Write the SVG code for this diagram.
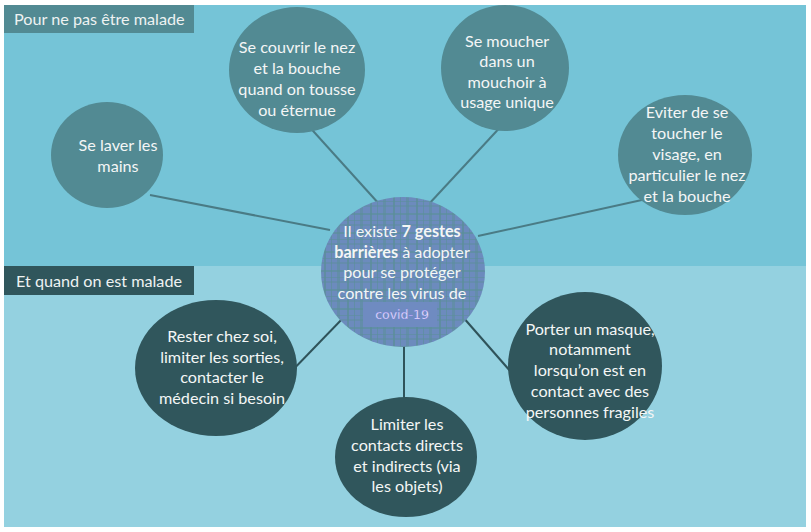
<svg xmlns="http://www.w3.org/2000/svg" width="811" height="532" viewBox="0 0 811 532">
<defs>
<style>
.t{font-family:Lato,"Open Sans","DejaVu Sans",sans-serif;font-size:16.2px;fill:#f4f6f6;text-anchor:middle}
.lbl{font-family:Lato,"Open Sans","DejaVu Sans",sans-serif;font-size:16.2px;fill:#eef2f2}
.top{fill:#528a93}
.bot{fill:#30565c}
.ct{stroke:#4a7b85;stroke-width:2;fill:none}
.cb{stroke:#2f535a;stroke-width:2;fill:none}
</style>
<pattern id="plaid" width="23" height="19" patternUnits="userSpaceOnUse">
<rect width="23" height="19" fill="#6c8bbd"/>
<rect x="2" width="2" height="19" fill="#5a8f98" opacity="0.7"/>
<rect x="9" width="1" height="19" fill="#5a8f98" opacity="0.6"/>
<rect x="15" width="3" height="19" fill="#5a8f98" opacity="0.5"/>
<rect y="4" width="23" height="2" fill="#5a8f98" opacity="0.6"/>
<rect y="11" width="23" height="1" fill="#5a8f98" opacity="0.5"/>
<rect y="15" width="23" height="2" fill="#5a8f98" opacity="0.4"/>
</pattern>
</defs>
<rect width="811" height="532" fill="#ffffff"/>
<rect x="4" y="5" width="802" height="261" fill="#75c4d7"/>
<rect x="4" y="266" width="802" height="261" fill="#94d1e0"/>
<g id="label-top">
<rect x="4" y="5" width="190" height="28" fill="#528a93"/>
<text class="lbl" x="14" y="25">Pour ne pas être malade</text>
</g>
<g id="label-bottom">
<rect x="4" y="266" width="190" height="29" fill="#30565c"/>
<text class="lbl" x="16" y="287">Et quand on est malade</text>
</g>
<g id="connectors">
<line class="ct" x1="150" y1="195" x2="330" y2="230"/>
<line class="ct" x1="305" y1="122" x2="380" y2="205"/>
<line class="ct" x1="505" y1="122" x2="428" y2="205"/>
<line class="ct" x1="478" y1="236" x2="660" y2="196"/>
<line class="cb" x1="285" y1="378" x2="345" y2="316"/>
<line class="cb" x1="404" y1="340" x2="404" y2="405"/>
<line class="cb" x1="462" y1="316" x2="518" y2="380"/>
</g>
<g id="node-laver">
<ellipse class="top" cx="107" cy="155" rx="56" ry="53"/>
<text class="t"><tspan x="118" y="151">Se laver les</tspan><tspan x="118" y="172">mains</tspan></text>
</g>
<g id="node-couvrir">
<ellipse class="top" cx="297" cy="70" rx="68" ry="63"/>
<text class="t"><tspan x="297" y="53">Se couvrir le nez</tspan><tspan x="297" y="74">et la bouche</tspan><tspan x="297" y="95">quand on tousse</tspan><tspan x="297" y="116">ou éternue</tspan></text>
</g>
<g id="node-moucher">
<ellipse class="top" cx="505" cy="68" rx="64" ry="63"/>
<text class="t"><tspan x="507" y="47">Se moucher</tspan><tspan x="507" y="67">dans un</tspan><tspan x="507" y="88">mouchoir à</tspan><tspan x="507" y="108">usage unique</tspan></text>
</g>
<g id="node-eviter">
<ellipse class="top" cx="685" cy="155" rx="67" ry="60"/>
<text class="t"><tspan x="687" y="118">Eviter de se</tspan><tspan x="687" y="139">toucher le</tspan><tspan x="687" y="160">visage, en</tspan><tspan x="687" y="181">particulier le nez</tspan><tspan x="687" y="202">et la bouche</tspan></text>
</g>
<g id="node-center">
<ellipse cx="403" cy="272" rx="82" ry="75" fill="url(#plaid)"/>
<rect x="363" y="302" width="74" height="25" fill="#6f8bc1"/>
<text class="t"><tspan x="402" y="237">Il existe <tspan font-weight="bold">7 gestes</tspan></tspan><tspan x="402" y="258"><tspan font-weight="bold">barrières</tspan> à adopter</tspan><tspan x="402" y="278">pour se protéger</tspan><tspan x="402" y="299">contre les virus de</tspan></text>
<text x="402" y="319" text-anchor="middle" font-family="'DejaVu Sans',Verdana,sans-serif" font-size="12.5" fill="#f2f0ff" stroke="#7a70e0" stroke-width="0.3">covid-19</text>
</g>
<g id="node-rester">
<ellipse class="bot" cx="216" cy="368" rx="81" ry="68"/>
<text class="t"><tspan x="222" y="342">Rester chez soi,</tspan><tspan x="222" y="363">limiter les sorties,</tspan><tspan x="222" y="383">contacter le</tspan><tspan x="222" y="404">médecin si besoin</tspan></text>
</g>
<g id="node-limiter">
<ellipse class="bot" cx="406" cy="457" rx="71" ry="60"/>
<text class="t"><tspan x="407" y="430">Limiter les</tspan><tspan x="407" y="451">contacts directs</tspan><tspan x="407" y="472">et indirects (via</tspan><tspan x="407" y="492">les objets)</tspan></text>
</g>
<g id="node-porter">
<ellipse class="bot" cx="585" cy="366" rx="77" ry="74"/>
<text class="t"><tspan x="590" y="335">Porter un masque,</tspan><tspan x="590" y="355">notamment</tspan><tspan x="590" y="376">lorsqu’on est en</tspan><tspan x="590" y="397">contact avec des</tspan><tspan x="590" y="418">personnes fragiles</tspan></text>
</g>
</svg>
